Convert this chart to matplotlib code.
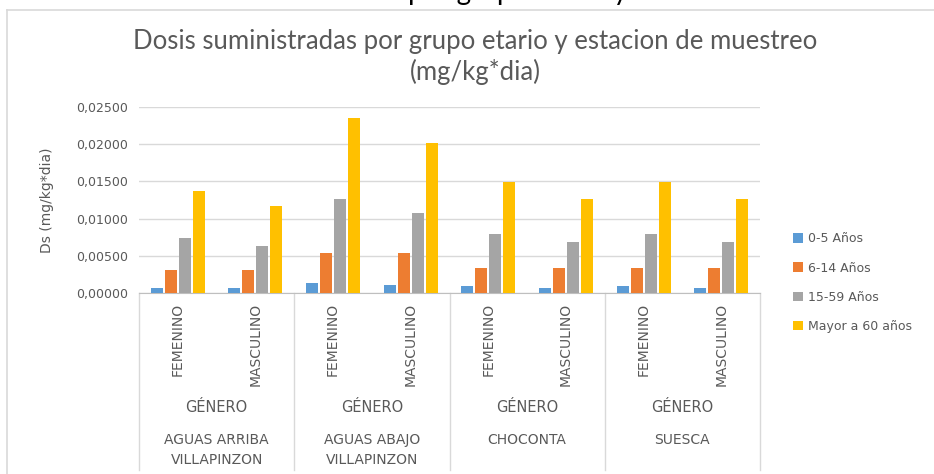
import matplotlib
matplotlib.use("Agg")
import matplotlib.pyplot as plt
import matplotlib.transforms as mtransforms
from matplotlib.lines import Line2D
from matplotlib.patches import Patch
import numpy as np

# datos
generos = ["FEMENINO", "MASCULINO"] * 4
estaciones = ["AGUAS ARRIBA\nVILLAPINZON", "AGUAS ABAJO\nVILLAPINZON", "CHOCONTA", "SUESCA"]
series = ["0-5 Años", "6-14 Años", "15-59 Años", "Mayor a 60 años"]
d_0_5 = [0.0007, 0.0007, 0.00135, 0.00112, 0.0009, 0.0007, 0.0009, 0.0007]
d_6_14 = [0.0031, 0.0031, 0.00535, 0.00535, 0.0034, 0.0034, 0.0034, 0.0034]
d_15_59 = [0.0074, 0.0063, 0.01257, 0.0107, 0.0079, 0.0068, 0.0079, 0.0068]
d_60 = [0.01365, 0.0117, 0.0235, 0.0201, 0.0149, 0.0126, 0.0149, 0.0126]
yticks = [0.0, 0.005, 0.010, 0.015, 0.020, 0.025]

colores = ["#5B9BD5", "#ED7D31", "#A5A5A5", "#FFC000"]
gris_txt = "#595959"
gris_lin = "#D9D9D9"

W, H = 934, 474
fig = plt.figure(figsize=(W / 100, H / 100), dpi=100)
ax = fig.add_axes([139 / W, 1 - 293 / H, (760 - 139) / W, (293 - 107) / H])

x = np.arange(len(generos))
paso = 0.18
ancho = 0.155
for i, (vals, c) in enumerate(zip([d_0_5, d_6_14, d_15_59, d_60], colores)):
    ax.bar(x + (i - 1.5) * paso, vals, width=ancho, color=c, zorder=3)

ax.set_xlim(-0.5, len(generos) - 0.5)
ax.set_ylim(0, 0.025)
ax.set_yticks(yticks)
ax.set_yticklabels([f"{v:.5f}".replace(".", ",") for v in yticks])
ax.tick_params(axis="y", length=0, pad=8, labelsize=9, labelcolor=gris_txt)
ax.set_xticks([])
ax.grid(axis="y", color=gris_lin, lw=1, zorder=0)
for s in ["top", "right", "left"]:
    ax.spines[s].set_visible(False)
ax.spines["bottom"].set_color("#BFBFBF")
ax.set_ylabel("Ds (mg/kg*dia)", fontsize=10, color=gris_txt, labelpad=16)

# eje de categorias en varios niveles
tr = mtransforms.blended_transform_factory(ax.transData, ax.transAxes)
for b in np.arange(-0.5, len(generos), 2):
    ax.plot([b, b], [0, -0.952], transform=tr, color=gris_lin, lw=1, clip_on=False)
for xi, g in zip(x, generos):
    ax.text(xi, -0.054, g, transform=tr, rotation=90, ha="center", va="top",
            fontsize=10, color=gris_txt)
for k, est in enumerate(estaciones):
    xc = 2 * k + 0.5
    ax.text(xc, -0.613, "GÉNERO", transform=tr, ha="center", va="center",
            fontsize=10.5, color=gris_txt)
    ax.text(xc, -0.752, est, transform=tr, ha="center", va="top",
            fontsize=10, color=gris_txt, linespacing=1.6)

handles = [Patch(facecolor=c) for c in colores]
fig.legend(handles, series, loc="upper left", bbox_to_anchor=(782 / W, 1 - 221 / H),
           frameon=False, fontsize=9, labelcolor=gris_txt, handlelength=0.8,
           handleheight=0.8, handletextpad=0.35, labelspacing=1.3)

fig.text(475 / W, 1 - 42 / H, "Dosis suministradas por grupo etario y estacion de muestreo",
         ha="center", va="center", fontsize=18.5, color=gris_txt, family="Lato")
fig.text(475 / W, 1 - 72 / H, "(mg/kg*dia)", ha="center", va="center",
         fontsize=18.5, color=gris_txt, family="Lato")

# recuadro del grafico y el titulo cortado arriba
fig.add_artist(Line2D([7 / W, 1], [1 - 10 / H, 1 - 10 / H], color=gris_lin, lw=1.2))
fig.add_artist(Line2D([7 / W, 7 / W], [0, 1 - 10 / H], color=gris_lin, lw=1.2))
fig.text(408 / W, 1 + 0.5 / H, "por grupo etario y", ha="left", va="baseline",
         fontsize=20, color="black", family="Lato")

fig.savefig("out.png", dpi=100)
